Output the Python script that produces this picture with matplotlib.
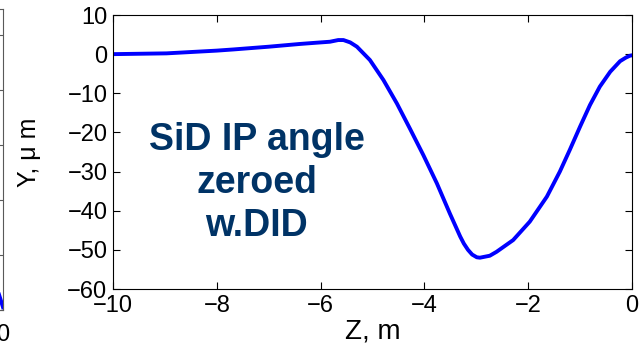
import matplotlib
matplotlib.use('Agg')
import matplotlib.pyplot as plt
import numpy as np

plt.rcParams['font.family'] = ['Liberation Sans', 'DejaVu Sans']

# orbit Y along Z
z = [-10, -8.97, -8.0, -7.68, -7.0, -6.4, -6.1, -5.82, -5.66, -5.56, -5.43, -5.30,
     -5.05, -4.79, -4.53, -4.28, -4.02, -3.76, -3.51, -3.31, -3.24, -3.16, -3.08,
     -2.99, -2.93, -2.74, -2.61, -2.29, -1.97, -1.64, -1.39, -1.20, -1.00, -0.81,
     -0.62, -0.42, -0.23, -0.12, -0.04, 0]
y = [0, 0.2, 0.9, 1.2, 1.9, 2.6, 2.9, 3.17, 3.6, 3.6, 3.0, 1.9,
     -1.5, -6.6, -12.6, -19.0, -25.8, -33.0, -40.7, -46.6, -48.4, -50.0, -51.2,
     -51.9, -52.0, -51.5, -50.5, -47.5, -42.8, -36.4, -30.0, -24.5, -18.5, -13.0,
     -8.3, -4.5, -1.8, -0.9, -0.4, -0.3]

# sliver of the neighbouring panel on the left edge
z_left = [-0.4, 0]
y_left = [0.5, 0.05]

xticks = [-10, -8, -6, -4, -2, 0]
yticks = [10, 0, -10, -20, -30, -40, -50, -60]


def lab(t):
    return str(t).replace('-', '\u2212')


fig = plt.figure(figsize=(6.4, 3.49), dpi=100)

# neighbour panel (mostly outside the figure)
ax0 = fig.add_axes([-0.3, 39/349, 0.3 + 3/640, 301/349])
ax0.plot(z_left, y_left, color='blue', lw=2.8)
ax0.set_xlim(-10, 0)
ax0.set_ylim(0, 5.47)
ax0.set_xticks([0])
ax0.set_yticks([0, 1, 2, 3, 4, 5])
ax0.yaxis.tick_right()
ax0.set_yticklabels([])
ax0.tick_params(direction='in', length=5, labelsize=17, pad=10, color='0.35')
for s in ax0.spines.values():
    s.set_color('0.35')

ax = fig.add_axes([113/640, 60/349, 519/640, 274/349])
ax.plot(z, y, color='blue', lw=2.8)
ax.set_xlim(-10, 0)
ax.set_ylim(-60, 10)
ax.set_xticks(xticks)
ax.set_yticks(yticks)
ax.set_xticklabels([lab(t) for t in xticks])
ax.set_yticklabels([lab(t) for t in yticks])
ax.tick_params(direction='in', length=5, labelsize=17, top=True, right=True, pad=4)
ax.set_xlabel('Z, m', fontsize=20)
ax.set_ylabel('Y, \u03bc m', fontsize=18)
ax.xaxis.set_label_coords(0.5, -0.106)
ax.yaxis.set_label_coords(-0.138, 0.5)

ax.text(-7.23, -33.0, 'SiD IP angle\nzeroed\nw.DID', ha='center', va='center',
        multialignment='center', fontsize=27, fontweight='bold', color='#003366',
        linespacing=1.25)

plt.savefig('out.png', dpi=100)
